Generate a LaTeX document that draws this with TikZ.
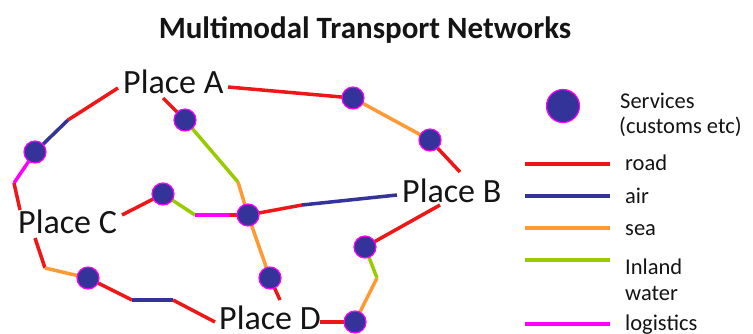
\documentclass[tikz,border=0pt]{standalone}
\usepackage{fontspec}
\setmainfont{Carlito}
\usetikzlibrary{backgrounds}
\definecolor{roadc}{RGB}{238,22,22}
\definecolor{airc}{RGB}{51,51,153}
\definecolor{seac}{RGB}{255,153,51}
\definecolor{inlandc}{RGB}{153,204,0}
\definecolor{logc}{RGB}{255,0,255}
\definecolor{dotc}{RGB}{51,51,153}
\definecolor{txtc}{RGB}{20,20,20}
\tikzset{
  svc/.style={circle,fill=dotc,draw=logc,line width=1.2pt,minimum size=22pt,inner sep=0pt},
  bigsvc/.style={svc,minimum size=33pt},
  place/.style={anchor=base west,inner sep=0pt,text=txtc,font=\fontsize{34}{34}\selectfont},
  legtxt/.style={anchor=base west,inner sep=0pt,text=txtc,font=\fontsize{22.5}{22.5}\selectfont},
  road/.style={draw=roadc,line width=3.5pt},
  air/.style={draw=airc,line width=3.5pt},
  sea/.style={draw=seac,line width=3.5pt},
  inland/.style={draw=inlandc,line width=3.5pt},
  logi/.style={draw=logc,line width=3.5pt},
}
\begin{document}
\begin{tikzpicture}[x=1pt,y=-1pt]
\useasboundingbox (0,0) rectangle (753,333);
% title
\node[anchor=base,inner sep=0pt,text=txtc,font=\bfseries\fontsize{31}{31}\selectfont] (title) at (365,38) {Multimodal Transport Networks};
% places
\node[place] (A) at (123,93) {Place A};
\node[place] (B) at (402,202) {Place B};
\node[place] (C) at (18,233) {Place C};
\node[place] (D) at (219,329) {Place D};
% service dots
\node[svc] (d1) at (35,152) {};
\node[svc] (d2) at (88,278) {};
\node[svc] (d3) at (163,194) {};
\node[svc] (d4) at (248,215) {};
\node[svc] (d5) at (353,98) {};
\node[svc] (d6) at (430,140) {};
\node[svc] (d7) at (185,120) {};
\node[svc] (d8) at (270,278) {};
\node[svc] (d9) at (365,247) {};
\node[svc] (d10) at (355,322) {};
% junction / free ends
\coordinate (aL) at (118,88);
\coordinate (j1) at (68,120);
\coordinate (j2) at (14,183);
\coordinate (cT) at (20,210);
\coordinate (cB) at (35,238);
\coordinate (j3) at (45,268);
\coordinate (j4) at (132,300);
\coordinate (j5) at (173,300);
\coordinate (dL) at (215,322);
\coordinate (cR) at (122,215);
\coordinate (j6) at (195,215);
\coordinate (j7) at (230,215);
\coordinate (aR) at (228,87);
\coordinate (bT) at (460,172);
\coordinate (aB) at (163,98);
\coordinate (j8) at (238,182);
\coordinate (dT) at (280,300);
\coordinate (j9) at (302,205);
\coordinate (bL) at (397,195);
\coordinate (bB) at (440,205);
\coordinate (j10) at (377,278);
\coordinate (dR) at (320,322);
\begin{scope}[on background layer]
\draw[road] (aL) -- (j1);
\draw[air] (j1) -- (d1.center);
\draw[logi] (d1.center) -- (j2);
\draw[road] (j2) -- (cT);
\draw[road] (cB) -- (j3);
\draw[sea] (j3) -- (d2.center);
\draw[road] (d2.center) -- (j4);
\draw[air] (j4) -- (j5);
\draw[road] (j5) -- (dL);
\draw[road] (cR) -- (d3.center);
\draw[inland] (d3.center) -- (j6);
\draw[logi] (j6) -- (j7);
\draw[road] (j7) -- (d4.center);
\draw[road] (aR) -- (d5.center);
\draw[sea] (d5.center) -- (d6.center);
\draw[road] (d6.center) -- (bT);
\draw[road] (aB) -- (d7.center);
\draw[inland] (d7.center) -- (j8);
\draw[sea] (j8) -- (d4.center);
\draw[sea] (d4.center) -- (d8.center);
\draw[road] (d8.center) -- (dT);
\draw[road] (d4.center) -- (j9);
\draw[air] (j9) -- (bL);
\draw[road] (bB) -- (d9.center);
\draw[inland] (d9.center) -- (j10);
\draw[sea] (j10) -- (d10.center);
\draw[road] (dR) -- (d10.center);
\end{scope}
% legend
\node[bigsvc] (ldot) at (563,106) {};
\node[legtxt] (lsvc) at (620,108) {Services};
\node[legtxt] (lcus) at (619,133) {(customs etc)};
\coordinate (r1) at (525,164); \coordinate (r2) at (610,164);
\coordinate (a1) at (525,196); \coordinate (a2) at (610,196);
\coordinate (s1) at (525,228); \coordinate (s2) at (610,228);
\coordinate (i1) at (525,260); \coordinate (i2) at (610,260);
\coordinate (l1) at (525,324); \coordinate (l2) at (610,324);
\draw[road] (r1) -- (r2);
\draw[air] (a1) -- (a2);
\draw[sea] (s1) -- (s2);
\draw[inland] (i1) -- (i2);
\draw[logi] (l1) -- (l2);
\node[legtxt] (lroad) at (625,170) {road};
\node[legtxt] (lair) at (625,203) {air};
\node[legtxt] (lsea) at (625,235) {sea};
\node[legtxt] (lin) at (625,274) {Inland};
\node[legtxt] (lwat) at (625,300) {water};
\node[legtxt] (llog) at (625,330) {logistics};
\end{tikzpicture}
\end{document}
